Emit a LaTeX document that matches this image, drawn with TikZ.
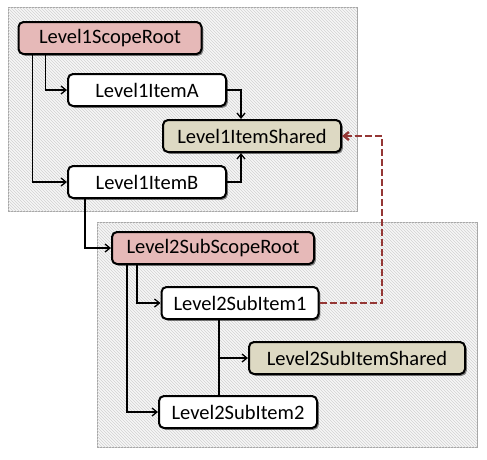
\documentclass[tikz,border=0pt]{standalone}
\usepackage{fontspec}
\setmainfont{Carlito}
\usetikzlibrary{arrows.meta,shadows,patterns}

\definecolor{rootpink}{RGB}{230,185,184}
\definecolor{sharedtan}{RGB}{221,217,195}
\definecolor{linkred}{RGB}{149,55,53}

\begin{document}
\begin{tikzpicture}[x=1pt,y=-1pt,line width=1.3pt,>={Straight Barb[length=5pt,width=8pt]},
  item/.style={draw,line width=2pt,rounded corners=5pt,fill=white,inner xsep=0pt,
    minimum height=32pt,font=\fontsize{20.5}{23}\selectfont,
    drop shadow={shadow xshift=1.8pt,shadow yshift=-1.8pt,opacity=.45,fill=black}},
  rootitem/.style={item,fill=rootpink},
  shareditem/.style={item,fill=sharedtan},
  scopebox/.style={draw=gray!70,line width=0.6pt,fill=gray!6,
    postaction={pattern=north west lines,pattern color=gray!35}},
  link/.style={->,draw=linkred,line width=2.4pt,dash pattern=on 7pt off 3pt}]
\useasboundingbox (0,0) rectangle (487,459);
% ---------- scope frames ----------
\path[scopebox] (8,7) rectangle (357,211);
\path[scopebox] (97,222) rectangle (477,447);
% ---------- level 1 ----------
\node[rootitem,minimum width=183pt] (root1) at (110,38) {Level1ScopeRoot};
\node[item,minimum width=158pt] (itema) at (147,90) {Level1ItemA};
\node[shareditem,minimum width=178pt] (shared1) at (252,136) {Level1ItemShared};
\node[item,minimum width=158pt] (itemb) at (147,182) {Level1ItemB};
% ---------- level 2 ----------
\node[rootitem,minimum width=202pt] (root2) at (213,248) {Level2SubScopeRoot};
\node[item,minimum width=157pt] (sub1) at (240,303) {Level2SubItem1};
\node[shareditem,minimum width=216pt] (shared2) at (357,358) {Level2SubItemShared};
\node[item,minimum width=158pt] (sub2) at (238,412) {Level2SubItem2};
% ---------- connectors ----------
\draw[->] ([xshift=28pt]root1.south west) |- (itema.west);
\draw[->] ([xshift=15pt]root1.south west) |- (itemb.west);
\draw[->] (itema.east) -| ([xshift=-11pt]shared1.north);
\draw[->] (itemb.east) -| ([xshift=-11pt]shared1.south);
\draw[->] ([xshift=18pt]itemb.south west) |- (root2.west);
\draw[->] ([xshift=26pt]root2.south west) |- (sub1.west);
\draw[->] ([xshift=16pt]root2.south west) |- (sub2.west);
\draw ([xshift=-21pt]sub1.south) -- ([xshift=-19pt]sub2.north);
\coordinate (fork) at ([xshift=-21pt]sub1.south |- shared2.west);
\draw[->] (fork) -- (shared2.west);
% ---------- cross-scope link ----------
\coordinate (turn) at (382,0);
\draw[link] (sub1.east) -| (turn |- shared1.east) -- (shared1.east);
\end{tikzpicture}
\end{document}
